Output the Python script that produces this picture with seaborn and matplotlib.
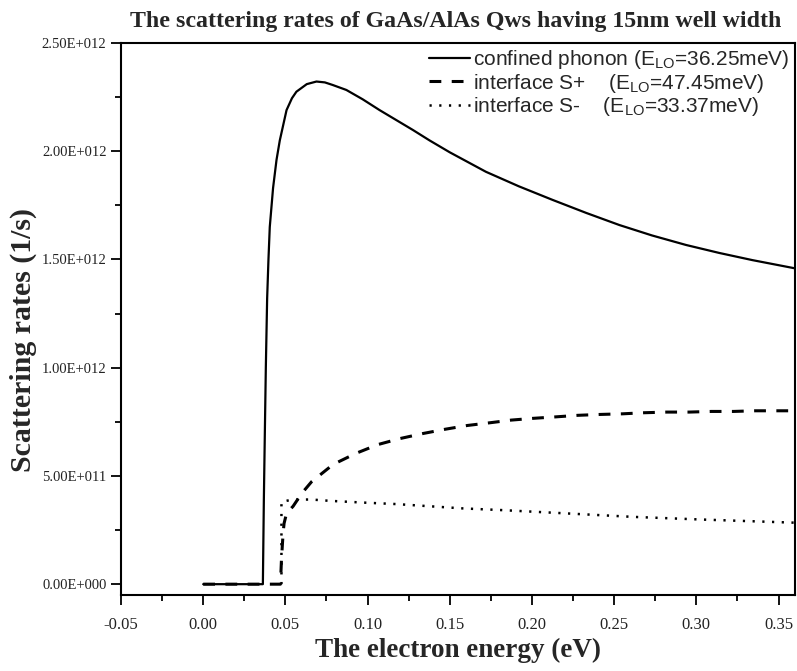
import matplotlib
matplotlib.use("Agg")
import matplotlib.pyplot as plt
import seaborn as sns
import pandas as pd
from matplotlib.ticker import FixedLocator, FixedFormatter, MultipleLocator

# ---------------- data (energy in eV, rates in units of 1e12 1/s) ----------------
confined_e = [0.000, 0.0363, 0.0369, 0.0375, 0.0381, 0.0389, 0.0397, 0.0405, 0.0425,
              0.0446, 0.0466, 0.0507, 0.0540, 0.0567, 0.0630, 0.0689, 0.0740, 0.0788,
              0.0871, 0.0970, 0.1073, 0.1276, 0.1377, 0.1500, 0.1720, 0.1920, 0.2126,
              0.2330, 0.2532, 0.2730, 0.2937, 0.3140, 0.3341, 0.3600]
confined_r = [0.0, 0.0, 0.39, 0.70, 1.00, 1.32, 1.50, 1.65, 1.83,
              1.96, 2.05, 2.19, 2.245, 2.275, 2.31, 2.322, 2.318, 2.306,
              2.283, 2.24, 2.19, 2.098, 2.05, 1.995, 1.905, 1.838, 1.775,
              1.715, 1.659, 1.611, 1.567, 1.530, 1.497, 1.459]

splus_e = [0.000, 0.0470, 0.0476, 0.0486, 0.0492, 0.0507, 0.0547, 0.0600, 0.0659,
           0.0790, 0.0928, 0.1063, 0.1199, 0.1337, 0.1474, 0.1606, 0.1748, 0.1874,
           0.2005, 0.2147, 0.2278, 0.2410, 0.2552, 0.2683, 0.2821, 0.2957, 0.3092,
           0.3226, 0.3358, 0.3600]
splus_r = [0.0, 0.0, 0.112, 0.235, 0.281, 0.327, 0.360, 0.420, 0.473,
           0.553, 0.604, 0.645, 0.673, 0.696, 0.716, 0.733, 0.746, 0.758,
           0.766, 0.773, 0.780, 0.784, 0.787, 0.792, 0.795, 0.795, 0.798,
           0.798, 0.801, 0.801]

sminus_e = [0.0476, 0.0476, 0.0537, 0.0600, 0.0659, 0.0770, 0.0972, 0.1175, 0.1377,
            0.1580, 0.1823, 0.2208, 0.2612, 0.3018, 0.3600]
sminus_r = [0.0, 0.380, 0.390, 0.391, 0.391, 0.385, 0.377, 0.370, 0.360,
            0.350, 0.342, 0.327, 0.311, 0.299, 0.284]

series_labels = ["confined phonon (E$_{\\mathregular{LO}}$=36.25meV)",
                 "interface S+    (E$_{\\mathregular{LO}}$=47.45meV)",
                 "interface S-    (E$_{\\mathregular{LO}}$=33.37meV)"]

ytick_values = [0.0, 0.5e12, 1.0e12, 1.5e12, 2.0e12, 2.5e12]
ytick_labels = ["0.00E+000", "5.00E+011", "1.00E+012", "1.50E+012", "2.00E+012", "2.50E+012"]
xtick_values = [-0.05, 0.00, 0.05, 0.10, 0.15, 0.20, 0.25, 0.30, 0.35]
xtick_labels = ["-0.05", "0.00", "0.05", "0.10", "0.15", "0.20", "0.25", "0.30", "0.35"]

title = "The scattering rates of GaAs/AlAs Qws having 15nm well width"
xlabel = "The electron energy (eV)"
ylabel = "Scattering rates (1/s)"
SCALE = 1e12

# ---------------- plotting ----------------
sns.set_style("ticks")
plt.rcParams["lines.scale_dashes"] = False
plt.rcParams["font.family"] = ["Liberation Serif", "DejaVu Serif"]

fig = plt.figure(figsize=(7.97, 6.71), dpi=100)
ax = fig.add_axes([121 / 797, 76 / 671, 674 / 797, 552 / 671])

df_m = pd.DataFrame({"e": sminus_e, "r": [v * SCALE for v in sminus_r]})
df_p = pd.DataFrame({"e": splus_e, "r": [v * SCALE for v in splus_r]})
df_c = pd.DataFrame({"e": confined_e, "r": [v * SCALE for v in confined_r]})

sns.lineplot(data=df_m, x="e", y="r", ax=ax, color="black", linewidth=1.8,
             estimator=None, sort=False)
l_m = ax.lines[-1]
l_m.set_dashes([1.6, 5.4])

sns.lineplot(data=df_p, x="e", y="r", ax=ax, color="black", linewidth=2.2,
             estimator=None, sort=False)
l_p = ax.lines[-1]
l_p.set_dashes([8.5, 7.5])

sns.lineplot(data=df_c, x="e", y="r", ax=ax, color="black", linewidth=1.6,
             estimator=None, sort=False)
l_c = ax.lines[-1]

ax.set_xlim(-0.05, 0.36)
ax.set_ylim(-0.05e12, 2.5e12)

ax.xaxis.set_major_locator(FixedLocator(xtick_values))
ax.xaxis.set_major_formatter(FixedFormatter(xtick_labels))
ax.xaxis.set_minor_locator(MultipleLocator(0.025))
ax.yaxis.set_major_locator(FixedLocator(ytick_values))
ax.yaxis.set_major_formatter(FixedFormatter(ytick_labels))
ax.yaxis.set_minor_locator(MultipleLocator(0.25e12))

ax.tick_params(axis="both", which="major", direction="out", length=7.5, width=1.3,
               color="black")
ax.tick_params(axis="both", which="minor", direction="out", length=4, width=1.3,
               color="black")
ax.tick_params(axis="x", which="major", labelsize=12, pad=8)
ax.tick_params(axis="y", which="major", labelsize=10.5, pad=3)
for lab in ax.get_xticklabels() + ax.get_yticklabels():
    lab.set_color("#222222")

for sp in ax.spines.values():
    sp.set_visible(True)
    sp.set_linewidth(1.5)
    sp.set_color("black")

ax.set_xlabel(xlabel, fontsize=19.5, fontweight="bold")
ax.set_ylabel(ylabel, fontsize=21.5, fontweight="bold")
ax.xaxis.set_label_coords(0.5, -0.077)
ax.yaxis.set_label_coords(-0.125, 0.462)

fig.text(456 / 797, 1 - 21 / 671, title, ha="center", va="center",
         fontsize=17.2, fontweight="bold")

ax.legend([l_c, l_p, l_m], series_labels, loc="upper right",
          bbox_to_anchor=(1.0, 1.0), frameon=False,
          prop={"family": "Liberation Sans", "size": 15},
          handlelength=2.0, handletextpad=0.15, labelspacing=0.02,
          borderaxespad=0.1, borderpad=0.15)

fig.savefig("out.png", dpi=100)
